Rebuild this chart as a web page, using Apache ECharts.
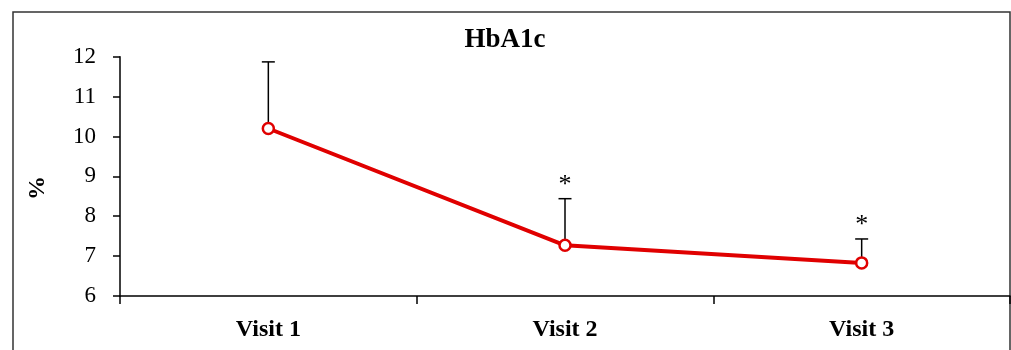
<!DOCTYPE html>
<html>
<head>
<meta charset="utf-8">
<script src="https://cdn.jsdelivr.net/npm/echarts@6/dist/echarts.min.js"></script>
<style>
html,body{margin:0;padding:0;background:#fff;}
#chart{width:1011px;height:350px;}
</style>
</head>
<body>
<div id="chart"></div>
<script>
const titleText = 'HbA1c';
const yAxisTitle = '%';
const categories = ['Visit 1', 'Visit 2', 'Visit 3'];
const means = [10.2, 7.27, 6.83];
const upperBounds = [11.87, 8.44, 7.43];
const significance = ['', '*', '*'];
const yTicks = { min: 6, max: 12, interval: 1 };

const serif = '"Liberation Serif", "DejaVu Serif", serif';
const chart = echarts.init(document.getElementById('chart'), null, { renderer: 'canvas' });

const errData = categories.map((c, i) => [i, means[i], upperBounds[i], significance[i]]);

chart.setOption({
  animation: false,
  backgroundColor: '#fff',
  title: {
    text: titleText,
    left: 500, top: 22, textAlign: 'center',
    textStyle: { fontFamily: serif, fontWeight: 'bold', fontSize: 27, color: '#000' }
  },
  graphic: [{
    type: 'rect',
    shape: { x: 13, y: 12, width: 997, height: 400 },
    style: { fill: 'none', stroke: '#333', lineWidth: 1.5 },
    silent: true, z: -1
  }, {
    type: 'text',
    x: 38, y: 188, rotation: Math.PI / 2,
    style: { text: yAxisTitle, font: 'bold 24px ' + serif, fill: '#000', align: 'center', verticalAlign: 'middle' },
    silent: true
  }],
  grid: { left: 120, right: 1, top: 56.7, bottom: 54 },
  xAxis: {
    type: 'category',
    data: categories,
    boundaryGap: true,
    axisLine: { lineStyle: { color: '#000', width: 1.5 } },
    axisTick: { show: true, inside: false, length: 8, interval: 0, lineStyle: { color: '#000', width: 1.5 } },
    axisLabel: { margin: 22, fontFamily: serif, fontWeight: 'bold', fontSize: 24, color: '#000' },
    splitLine: { show: false }
  },
  yAxis: {
    type: 'value',
    min: yTicks.min, max: yTicks.max, interval: yTicks.interval,
    axisLine: { show: true, lineStyle: { color: '#000', width: 1.5 } },
    axisTick: { show: true, inside: false, length: 7, lineStyle: { color: '#000', width: 1.5 } },
    axisLabel: { margin: 24, fontFamily: serif, fontSize: 23, color: '#000' },
    splitLine: { show: false }
  },
  series: [
    {
      type: 'custom',
      z: 1,
      data: errData,
      renderItem: function (params, api) {
        const base = api.coord([api.value(0), api.value(1)]);
        const top = api.coord([api.value(0), api.value(2)]);
        const mark = errData[params.dataIndex][3];
        const half = 6.5;
        const children = [
          { type: 'line', shape: { x1: base[0], y1: base[1], x2: top[0], y2: top[1] },
            style: { stroke: '#000', lineWidth: 1.5 } },
          { type: 'line', shape: { x1: top[0] - half, y1: top[1], x2: top[0] + half, y2: top[1] },
            style: { stroke: '#000', lineWidth: 1.5 } }
        ];
        if (mark) {
          children.push({ type: 'text', x: top[0], y: top[1] - 1,
            style: { text: mark, fill: '#000', font: '26px ' + serif, align: 'center', verticalAlign: 'bottom' } });
        }
        return { type: 'group', children: children };
      }
    },
    {
      type: 'line',
      z: 3,
      data: means,
      symbol: 'circle',
      symbolSize: 11,
      lineStyle: { color: '#e00000', width: 4 },
      itemStyle: { color: '#fff', borderColor: '#e00000', borderWidth: 2.5 }
    }
  ]
});
</script>
</body>
</html>
